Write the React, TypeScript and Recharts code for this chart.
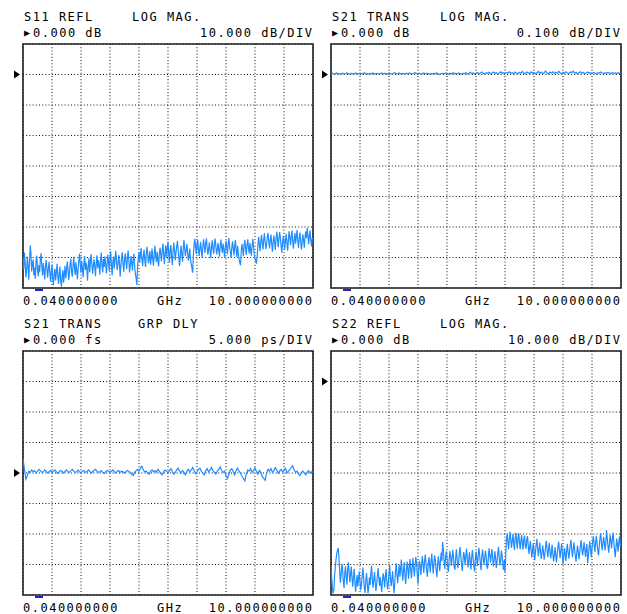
import React from 'react';
import { LineChart, Line, XAxis, YAxis, CartesianGrid, ReferenceArea, ReferenceDot } from 'recharts';

const START_GHZ = 0.04;
const STOP_GHZ = 10;
const START_LABEL = '0.040000000';
const STOP_LABEL = '10.000000000';
const UNIT_LABEL = 'GHz';

// S11 REFL, LOG MAG (dB), 401 points
const S11_DB = [
  -60.1, -63.8, -58.4, -61.9, -66.5, -64.2, -59.7, -62.8, -67.3, -61.5,
  -56.0, -58.9, -64.6, -62.0, -60.7, -65.8, -63.3, -67.0, -61.2, -59.4,
  -63.9, -66.2, -62.5, -64.8, -60.3, -58.6, -63.1, -65.9, -61.8, -64.4,
  -67.2, -62.9, -60.8, -64.0, -66.6, -63.5, -61.4, -65.2, -67.9, -64.6,
  -62.3, -66.8, -69.1, -65.4, -63.7, -67.5, -64.9, -62.1, -66.0, -68.7,
  -65.3, -63.0, -67.8, -69.6, -66.4, -64.1, -68.3, -65.6, -62.7, -66.9,
  -64.5, -61.3, -63.6, -67.4, -65.1, -62.2, -60.4, -64.7, -66.3, -62.9,
  -59.8, -63.2, -65.7, -61.6, -64.3, -67.1, -63.8, -60.9, -58.7, -62.4,
  -65.0, -61.1, -63.9, -66.5, -62.0, -59.5, -64.1, -61.7, -63.4, -67.6,
  -62.6, -60.2, -64.8, -61.4, -58.9, -62.1, -65.3, -63.0, -60.6, -62.9,
  -66.1, -61.8, -59.3, -63.5, -60.8, -62.4, -65.6, -61.0, -58.4, -62.7,
  -64.9, -60.5, -63.1, -59.6, -61.9, -65.2, -62.3, -59.1, -61.6, -64.4,
  -60.2, -58.0, -62.8, -65.8, -61.3, -59.7, -63.6, -60.4, -57.8, -61.5,
  -64.1, -62.0, -59.2, -61.7, -66.3, -62.5, -59.9, -58.3, -62.2, -64.7,
  -60.7, -58.6, -61.4, -63.8, -60.0, -57.7, -61.1, -64.9, -62.6, -59.5,
  -61.8, -64.3, -60.3, -58.8, -62.9, -65.4, -66.8, -69.0, -63.2, -60.1,
  -58.2, -61.6, -59.0, -56.9, -60.5, -62.8, -59.6, -57.4, -60.9, -63.1,
  -59.3, -56.5, -58.7, -61.9, -60.2, -57.9, -62.4, -59.8, -57.1, -60.6,
  -62.7, -58.5, -56.2, -59.4, -61.5, -58.1, -60.7, -62.9, -59.1, -56.8,
  -58.9, -61.3, -57.6, -55.4, -59.0, -62.2, -58.3, -56.0, -60.1, -57.2,
  -54.8, -58.6, -61.7, -57.3, -55.9, -59.7, -62.5, -58.0, -55.1, -57.8,
  -60.9, -58.4, -56.3, -54.6, -57.5, -60.3, -62.8, -58.8, -56.1, -59.2,
  -61.4, -57.0, -54.3, -56.9, -59.6, -57.7, -55.5, -58.2, -61.0, -59.4,
  -57.1, -60.6, -62.1, -63.4, -65.0, -59.3, -55.7, -53.9, -56.6, -58.9,
  -55.8, -54.2, -57.4, -59.5, -56.8, -54.9, -57.9, -60.0, -56.4, -54.0,
  -56.2, -58.5, -55.3, -53.7, -56.7, -59.1, -57.2, -55.0, -57.8, -60.2,
  -56.5, -54.4, -57.1, -58.8, -55.6, -53.8, -56.3, -59.0, -57.6, -55.2,
  -57.5, -59.7, -56.0, -54.1, -56.9, -58.4, -55.4, -57.3, -59.9, -56.7,
  -54.5, -56.6, -58.9, -55.7, -53.6, -56.4, -58.2, -60.1, -56.9, -54.7,
  -57.0, -59.3, -56.1, -54.3, -57.7, -59.8, -56.2, -58.6, -60.4, -61.7,
  -62.5, -58.3, -55.5, -57.2, -59.6, -56.0, -54.2, -57.0, -59.2, -55.9,
  -54.0, -56.8, -58.7, -55.3, -57.6, -59.4, -56.1, -53.9, -56.5, -58.9,
  -60.3, -61.2, -62.0, -59.5, -55.8, -53.2, -55.6, -57.9, -54.8, -52.6,
  -55.1, -57.4, -54.3, -52.1, -54.9, -57.2, -55.8, -53.4, -51.9, -54.6,
  -57.0, -54.4, -52.5, -55.3, -58.1, -55.0, -52.8, -54.9, -57.5, -54.1,
  -51.6, -53.8, -56.6, -54.0, -51.7, -53.5, -56.2, -58.4, -55.2, -52.9,
  -54.7, -57.3, -54.5, -52.2, -55.0, -57.8, -54.3, -51.4, -53.6, -56.0,
  -53.1, -51.2, -54.8, -57.1, -54.2, -52.0, -55.5, -53.2, -51.0, -54.4,
  -56.9, -53.9, -51.8, -54.5, -57.4, -55.1, -52.4, -54.2, -56.8, -53.3,
  -51.5, -53.7, -50.3, -52.9, -55.6, -53.0, -51.1, -54.3, -56.4, -53.6,
  -54.2,
];

// S21 TRANS, LOG MAG (dB), 201 points
const S21_DB = [
  0.002, 0.004, 0.001, 0.003, 0.005, 0.002, 0.003, 0.001, 0.004, 0.002,
  0.003, 0.005, 0.002, 0.001, 0.004, 0.003, 0.002, 0.005, 0.003, 0.001,
  0.004, 0.002, 0.003, 0.006, 0.002, 0.003, 0.001, 0.004, 0.003, 0.005,
  0.002, 0.003, 0.004, 0.001, 0.003, 0.005, 0.002, 0.004, 0.003, 0.002,
  0.005, 0.003, 0.001, 0.004, 0.006, 0.002, 0.003, 0.005, 0.002, 0.004,
  0.003, 0.001, 0.004, 0.002, 0.005, 0.003, 0.002, 0.004, 0.006, 0.003,
  0.002, 0.004, 0.001, 0.003, 0.005, 0.002, 0.004, 0.003, 0.001, 0.003,
  0.002, 0.004, 0.003, 0.005, 0.002, 0.000, 0.003, 0.004, 0.002, 0.005,
  0.003, 0.001, 0.004, 0.002, 0.006, 0.003, 0.004, 0.002, 0.005, 0.003,
  0.001, 0.004, 0.003, 0.006, 0.002, 0.004, 0.007, 0.003, 0.005, 0.002,
  0.004, 0.006, 0.003, 0.005, 0.008, 0.004, 0.002, 0.006, 0.004, 0.007,
  0.003, 0.005, 0.008, 0.004, 0.006, 0.002, 0.005, 0.009, 0.004, 0.006,
  0.003, 0.007, 0.005, 0.009, 0.004, 0.006, 0.002, 0.008, 0.005, 0.003,
  0.007, 0.004, 0.010, 0.005, 0.002, 0.008, 0.006, 0.003, 0.009, 0.005,
  0.007, 0.002, 0.006, 0.010, 0.004, 0.008, 0.003, 0.006, 0.011, 0.005,
  0.002, 0.008, 0.005, 0.009, 0.003, 0.007, 0.004, 0.010, 0.006, 0.001,
  0.007, 0.004, 0.009, 0.005, 0.003, 0.008, 0.006, 0.011, 0.004, 0.007,
  0.002, 0.006, 0.009, 0.004, 0.007, 0.003, 0.005, 0.008, 0.004, 0.006,
  0.003, 0.007, 0.005, 0.002, 0.006, 0.004, 0.008, 0.005, 0.003, 0.006,
  0.004, 0.007, 0.005, 0.003, 0.006, 0.004, 0.005, 0.003, 0.006, 0.004,
  0.005,
];

// S21 TRANS, GRP DLY (ps), 201 points
const S21_GD_PS = [
  2.3, 0.6, -1.0, -0.4, 0.3, 0.1, 0.5, 0.2, 0.4, 0.0,
  0.3, 0.6, 0.4, 0.1, 0.2, 0.5, 0.3, 0.0, 0.2, 0.4,
  0.1, 0.3, 0.5, 0.2, -0.1, 0.2, 0.4, 0.3, 0.0, 0.3,
  0.5, 0.2, 0.1, 0.4, 0.6, 0.3, 0.1, 0.2, 0.5, 0.2,
  0.0, 0.3, 0.4, 0.1, 0.2, 0.5, 0.3, 0.0, 0.2, 0.4,
  0.6, 0.3, 0.1, 0.2, 0.4, 0.1, -0.1, 0.2, 0.4, 0.3,
  0.1, 0.3, 0.5, 0.2, 0.0, 0.3, 0.4, 0.1, 0.3, 0.2,
  0.0, 0.2, 0.4, 0.3, 0.1, -0.2, -0.4, 0.1, 0.4, 0.6,
  0.3, 0.8, 1.1, 0.5, 0.2, 0.3, 0.0, -0.2, 0.3, 0.5,
  0.2, 0.4, 0.1, 0.6, 0.3, -0.1, -0.3, 0.2, 0.5, 0.3,
  0.0, 0.4, 0.7, 0.2, -0.2, 0.1, 0.5, 0.8, 0.3, 0.0,
  0.4, 0.1, -0.3, 0.3, 0.6, 0.2, 0.5, 0.9, 0.4, -0.1,
  0.2, 0.6, 0.8, 0.3, 0.0, -0.3, 0.4, 0.7, 0.2, 0.5,
  0.9, 0.4, 0.1, -0.2, 0.3, 0.6, 1.0, 0.4, 0.1, 0.3,
  -0.4, -0.9, -0.2, 0.5, 0.7, 0.2, -0.3, 0.4, 0.8, 0.3,
  0.0, -0.5, -0.9, -1.3, -0.2, 0.5, 0.3, 0.7, 0.1, 0.4,
  0.8, 0.3, -0.2, 0.4, 0.1, -0.6, -0.9, -1.2, 0.0, 0.6,
  0.3, 0.7, 0.1, 0.4, 0.9, 0.5, 0.0, 0.3, 0.6, 0.2,
  0.4, 0.8, 0.0, 0.3, 0.5, 0.9, 1.2, 0.5, 0.1, 0.3,
  -0.2, -0.4, 0.1, 0.3, 0.0, -0.3, 0.2, 0.4, 0.0, 0.2,
  0.1,
];

// S22 REFL, LOG MAG (dB), 401 points
const S22_DB = [
  -60.2, -64.7, -67.9, -69.5, -68.2, -63.5, -60.8, -58.1, -56.3, -55.4,
  -54.6, -57.9, -62.4, -66.0, -63.1, -59.8, -61.7, -65.4, -67.7, -62.9,
  -60.5, -63.8, -66.6, -61.9, -59.3, -62.6, -65.9, -63.2, -60.7, -64.5,
  -67.3, -64.0, -61.4, -65.7, -68.9, -66.1, -63.4, -67.2, -64.8, -62.3,
  -65.6, -68.4, -66.9, -63.7, -61.0, -64.3, -67.8, -69.3, -65.5, -62.8,
  -66.0, -69.5, -67.4, -64.2, -66.7, -63.0, -60.4, -64.9, -67.6, -65.1,
  -62.5, -65.8, -68.7, -66.2, -63.6, -61.2, -64.6, -67.0, -64.1, -66.8,
  -69.0, -65.3, -62.9, -64.7, -67.5, -63.8, -61.5, -65.2, -68.1, -66.4,
  -63.1, -60.3, -64.4, -67.1, -65.0, -62.2, -66.5, -69.4, -65.9, -62.0,
  -59.6, -63.3, -66.1, -62.7, -60.1, -64.0, -61.6, -58.4, -62.5, -65.3,
  -61.8, -59.2, -63.6, -66.4, -62.1, -59.0, -61.3, -64.7, -60.6, -58.2,
  -62.0, -64.5, -60.9, -57.8, -61.1, -63.9, -60.3, -57.5, -59.7, -63.2,
  -66.3, -61.5, -58.8, -60.6, -63.4, -59.9, -57.2, -60.0, -62.8, -59.1,
  -56.7, -59.4, -62.3, -64.0, -60.2, -57.6, -59.8, -62.6, -58.9, -56.4,
  -60.1, -63.0, -59.5, -57.0, -58.7, -61.8, -64.2, -60.5, -57.3, -59.6,
  -62.2, -58.6, -56.1, -58.9, -52.6, -55.4, -59.0, -61.5, -58.0, -55.7,
  -57.9, -60.8, -62.4, -58.3, -55.6, -57.4, -60.4, -58.1, -55.2, -57.8,
  -60.9, -61.7, -57.7, -55.0, -58.5, -61.2, -59.3, -56.6, -54.3, -57.1,
  -59.9, -62.1, -58.7, -55.9, -57.5, -60.2, -57.0, -54.8, -58.2, -61.0,
  -58.4, -56.0, -59.1, -61.6, -57.9, -55.3, -57.6, -60.7, -62.3, -58.6,
  -55.8, -58.0, -60.5, -57.2, -54.5, -56.9, -59.6, -61.9, -57.4, -55.1,
  -57.7, -60.1, -58.2, -55.5, -57.3, -60.8, -61.4, -57.8, -54.7, -56.8,
  -59.4, -57.0, -54.9, -58.1, -60.6, -58.3, -55.7, -57.9, -61.1, -59.0,
  -56.2, -54.2, -57.5, -60.3, -58.8, -55.4, -57.1, -60.0, -61.8, -58.5,
  -62.5, -57.0, -51.8, -49.9, -52.7, -55.0, -51.4, -49.3, -51.9, -54.6,
  -52.2, -50.0, -53.1, -55.2, -51.6, -49.6, -52.5, -54.8, -51.0, -49.8,
  -52.9, -55.0, -52.1, -50.3, -53.4, -55.1, -51.7, -50.5, -53.8, -54.9,
  -52.0, -50.7, -53.6, -56.5, -54.4, -52.3, -55.2, -57.8, -55.5, -53.0,
  -55.7, -58.6, -56.0, -53.4, -51.6, -54.5, -57.3, -55.1, -52.8, -55.9,
  -58.2, -56.3, -53.7, -55.8, -58.4, -56.6, -54.0, -52.2, -55.0, -57.6,
  -55.4, -52.9, -55.6, -58.0, -56.2, -53.5, -56.4, -59.0, -57.1, -54.3,
  -56.9, -59.3, -56.5, -54.1, -52.5, -55.3, -57.9, -55.6, -53.1, -55.8,
  -60.0, -57.4, -54.6, -56.7, -58.9, -55.5, -53.2, -55.9, -58.1, -56.0,
  -53.6, -51.9, -54.8, -57.6, -55.3, -52.7, -54.9, -57.3, -59.1, -56.1,
  -53.8, -55.7, -58.3, -56.4, -53.9, -52.0, -54.7, -57.0, -55.2, -52.6,
  -54.9, -57.5, -55.0, -53.3, -59.5, -57.2, -54.5, -52.4, -55.1, -57.7,
  -54.8, -52.3, -50.8, -53.6, -55.9, -52.9, -50.6, -53.1, -55.6, -57.0,
  -53.9, -51.5, -49.7, -52.8, -55.3, -53.0, -50.9, -52.6, -55.4, -53.2,
  -48.7, -51.2, -53.8, -56.1, -53.5, -50.4, -52.1, -54.7, -51.8, -49.5,
  -52.3, -55.0, -57.6, -54.9, -51.5, -53.4, -55.8, -52.7, -50.8, -53.9,
  -52.6,
];

const TRACE = '#1e8cff';
const FONT = '"DejaVu Sans Mono", "Liberation Mono", monospace';
const PLOT_W = 290;
const PLOT_H = 244;
const M = { top: 10, right: 5, bottom: 10, left: 20 };

const X_TICKS = Array.from({ length: 11 }, (_, k) => START_GHZ + (k * (STOP_GHZ - START_GHZ)) / 10);

type PanelProps = {
  values: number[];
  refValue: number;
  perDiv: number;
  refDivFromTop: number;
  title: string;
  format: string;
  formatX: number;
  refLabel: string;
  scaleLabel: string;
  plotLeft: number;
  plotTop: number;
};

const textBase: React.CSSProperties = {
  position: 'absolute',
  fontFamily: FONT,
  fontSize: 12,
  letterSpacing: '1.5px',
  lineHeight: '14px',
  height: 14,
  color: '#000',
  whiteSpace: 'pre',
};

function Panel(p: PanelProps) {
  const top = p.refValue + p.perDiv * p.refDivFromTop;
  const bottom = top - 8 * p.perDiv;
  const yTicks = Array.from({ length: 9 }, (_, k) => bottom + k * p.perDiv);
  const n = p.values.length;
  const data = p.values.map((v, i) => ({
    f: START_GHZ + ((STOP_GHZ - START_GHZ) * i) / (n - 1),
    v,
  }));
  const right = p.plotLeft + PLOT_W;
  return (
    <>
      <div style={{ ...textBase, left: p.plotLeft + 1, top: 10 + p.plotTop - 44 }}>{p.title}</div>
      <div style={{ ...textBase, left: p.formatX, top: 10 + p.plotTop - 44 }}>{p.format}</div>
      <div style={{ ...textBase, left: p.plotLeft + 1, top: 26 + p.plotTop - 44 }}>
        <span style={{ display: 'inline-block', width: 9, fontSize: 10, letterSpacing: 0, verticalAlign: 'top' }}>▶</span>
        {p.refLabel}
      </div>
      <div style={{ ...textBase, left: right - 200, width: 200 + 0.5, textAlign: 'right', top: 26 + p.plotTop - 44 }}>{p.scaleLabel}</div>
      <div style={{ ...textBase, left: p.plotLeft, top: p.plotTop + PLOT_H + 6 }}>{START_LABEL}</div>
      <div style={{ ...textBase, left: p.plotLeft + 134, top: p.plotTop + PLOT_H + 6 }}>{UNIT_LABEL}</div>
      <div style={{ ...textBase, left: right - 200, width: 200 + 0.5, textAlign: 'right', top: p.plotTop + PLOT_H + 6 }}>{STOP_LABEL}</div>
      <div style={{ position: 'absolute', left: p.plotLeft - M.left, top: p.plotTop - M.top }}>
        <LineChart
          width={PLOT_W + M.left + M.right}
          height={PLOT_H + M.top + M.bottom}
          data={data}
          margin={M}
        >
          <XAxis dataKey="f" type="number" domain={[START_GHZ, STOP_GHZ]} ticks={X_TICKS} interval={0} hide allowDataOverflow />
          <YAxis type="number" domain={[bottom, top]} ticks={yTicks} interval={0} hide allowDataOverflow />
          <CartesianGrid stroke="#111" strokeDasharray="1 2.2" strokeWidth={1} />
          <Line
            type="linear"
            dataKey="v"
            stroke={TRACE}
            strokeWidth={1.2}
            dot={false}
            isAnimationActive={false}
          />
          <ReferenceArea
            x1={START_GHZ}
            x2={STOP_GHZ}
            y1={bottom}
            y2={top}
            fill="none"
            fillOpacity={0}
            stroke="#222"
            strokeWidth={1.6}
            ifOverflow="visible"
          />
          <ReferenceDot
            x={START_GHZ}
            y={p.refValue}
            r={0}
            ifOverflow="visible"
            shape={(s: any) => (
              <polygon
                points={`${s.cx - 9},${s.cy - 4} ${s.cx - 3},${s.cy} ${s.cx - 9},${s.cy + 4}`}
                fill="#000"
              />
            )}
          />
          <ReferenceDot
            x={0.59}
            y={bottom}
            r={0}
            ifOverflow="visible"
            shape={(s: any) => (
              <rect x={s.cx - 4} y={s.cy + 1} width={8} height={2} fill="#2323c8" />
            )}
          />
        </LineChart>
      </div>
    </>
  );
}

export default function App() {
  return (
    <div
      style={{
        position: 'absolute',
        left: 0,
        top: 0,
        width: 627,
        height: 614,
        background: '#fff',
        overflow: 'hidden',
      }}
    >
      <Panel
        values={S11_DB}
        refValue={0}
        perDiv={10}
        refDivFromTop={1}
        title="S11 REFL"
        format="LOG MAG."
        formatX={132}
        refLabel="0.000 dB"
        scaleLabel="10.000 dB/DIV"
        plotLeft={23}
        plotTop={44}
      />
      <Panel
        values={S21_DB}
        refValue={0}
        perDiv={0.1}
        refDivFromTop={1}
        title="S21 TRANS"
        format="LOG MAG."
        formatX={440}
        refLabel="0.000 dB"
        scaleLabel="0.100 dB/DIV"
        plotLeft={331}
        plotTop={44}
      />
      <Panel
        values={S21_GD_PS}
        refValue={0}
        perDiv={5}
        refDivFromTop={4}
        title="S21 TRANS"
        format="GRP DLY"
        formatX={138}
        refLabel="0.000 fs"
        scaleLabel="5.000 ps/DIV"
        plotLeft={23}
        plotTop={351}
      />
      <Panel
        values={S22_DB}
        refValue={0}
        perDiv={10}
        refDivFromTop={1}
        title="S22 REFL"
        format="LOG MAG."
        formatX={440}
        refLabel="0.000 dB"
        scaleLabel="10.000 dB/DIV"
        plotLeft={331}
        plotTop={351}
      />
    </div>
  );
}
